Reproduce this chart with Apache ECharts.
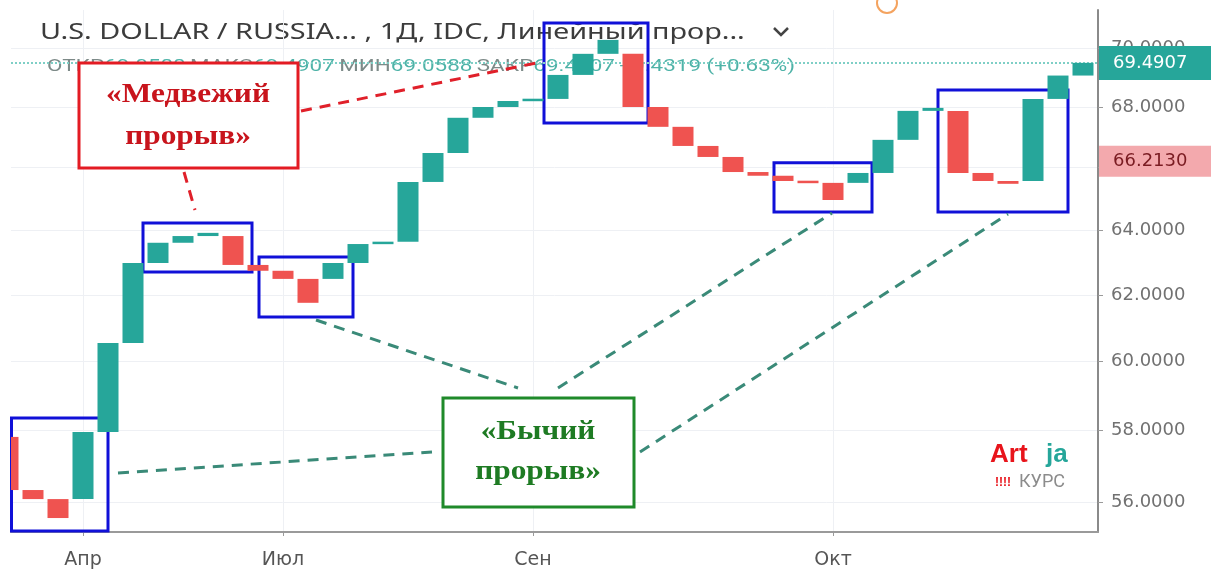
<!DOCTYPE html>
<html><head><meta charset="utf-8">
<script src="https://cdn.jsdelivr.net/npm/echarts@6/dist/echarts.min.js"></script>
<style>html,body{margin:0;padding:0;background:#fff}#c{width:1211px;height:571px}</style>
</head><body><div id="c"></div>
<script>
// ---- data ----
const brickIndex = [0,1,2,3,4,5,6,7,8,9,10,11,12,13,14,15,16,17,18,19,20,21,22,23,24,25,26,27,28,29,30,31,32,33,34,35,36,37,38,39,40,41,42,43];
const brickOpen  = [57.82,56.33,56.08,56.08,57.96,60.55,62.98,63.61,63.82,63.82,62.92,62.74,62.49,62.49,62.98,63.57,63.64,65.54,66.48,67.64,68.00,68.20,68.27,69.08,69.80,69.80,68.00,67.34,66.71,66.35,65.86,65.74,65.57,65.51,65.51,65.83,66.91,67.87,67.87,65.83,65.57,65.57,68.27,69.0588];
const brickClose = [56.33,56.08,55.56,57.96,60.55,62.98,63.61,63.82,63.92,62.92,62.74,62.49,61.76,62.98,63.57,63.64,65.54,66.48,67.64,68.00,68.20,68.27,69.08,69.80,70.28,68.00,67.34,66.71,66.35,65.86,65.74,65.57,65.51,64.96,65.83,66.91,67.87,67.97,65.83,65.57,65.48,68.27,69.0588,69.4907];
const yTickValues = [56,58,60,62,64,66,68,70];
const monthTicks  = [3,11,21,33];
const monthLabels = ['Апр','Июл','Сен','Окт'];
const lastPrice = 69.4907;
const markPrice = 66.2130;
const ohlcLabels = ['ОТКР','МАКС','МИН','ЗАКР'];
const ohlcValues = ['69.0588','69.4907','69.0588','69.4907'];
const changeText = '+0.4319 (+0.63%)';
// highlighted boxes (brick index range, price range)
const boxX0 = [0.14, 5.40, 10.04, 21.44, 30.64, 37.20];
const boxX1 = [4.00, 9.76, 13.80, 25.60, 34.56, 42.40];
const boxYLow  = [55.21, 62.70, 61.33, 67.47, 64.58, 64.58];
const boxYHigh = [58.36, 64.23, 63.17, 70.87, 66.16, 68.57];

const GREEN = '#26a69a', RED = '#ef5350';
const chart = echarts.init(document.getElementById('c'));

const brickData = brickIndex.map((x, k) => [x, brickOpen[k], brickClose[k]]);
const lineData = brickIndex.map((x, k) => [x, brickClose[k]]);

const headerRich = {
  l: {fill: '#7d8a88', fontSize: 17, fontFamily: 'Roboto'},
  v: {fill: '#4fb3a8', fontSize: 17, fontFamily: 'Roboto'}
};
let headerStr = '';
ohlcLabels.forEach((l, k) => { headerStr += '{l|' + l + '}{v|' + ohlcValues[k] + '} '; });
headerStr += '{v|' + changeText + '}';

const dash = (pts, color) => ({type: 'line', z: 100, shape: {x1: pts[0], y1: pts[1], x2: pts[2], y2: pts[3]},
  style: {stroke: color, lineWidth: 3, lineDash: [11, 8]}});

const option = {
  animation: false,
  backgroundColor: '#ffffff',
  grid: {left: 11, right: 113, top: 10, bottom: 39},
  xAxis: {
    type: 'value', min: 0.12, max: 43.6,
    axisLine: {show: true, lineStyle: {color: '#9a9a9a', width: 2}},
    axisTick: {show: true, customValues: monthTicks, length: 4, lineStyle: {color: '#9a9a9a'}},
    axisLabel: {customValues: monthTicks, formatter: v => monthLabels[monthTicks.indexOf(Math.round(v))],
      color: '#555', fontSize: 19, margin: 19, fontFamily: 'DejaVu Sans'},
    splitLine: {show: true, lineStyle: {color: '#eef0f4', width: 1}}
  },
  yAxis: {
    type: 'log', logBase: 10, min: 55.18, max: 71.32, position: 'right',
    axisLine: {show: true, lineStyle: {color: '#8a8a8a', width: 2}},
    axisTick: {show: true, customValues: yTickValues, length: 5, lineStyle: {color: '#9a9a9a'}},
    axisLabel: {customValues: yTickValues, formatter: v => Number(v).toFixed(4), color: '#717171',
      fontSize: 18, margin: 13, fontFamily: 'DejaVu Sans'},
    splitLine: {show: true, lineStyle: {color: '#eef0f4', width: 1}}
  },
  series: [
    {
      type: 'custom', z: 5,
      data: brickData,
      encode: {x: 0, y: [1, 2]},
      renderItem: function (params, api) {
        const i = api.value(0), o = api.value(1), c = api.value(2);
        const a = api.coord([i - 0.42, o]), b = api.coord([i + 0.42, c]);
        let y = Math.min(a[1], b[1]), h = Math.abs(a[1] - b[1]);
        if (h < 2.5) { y -= (2.5 - h) / 2; h = 2.5; }
        const cs = params.coordSys;
        const shape = echarts.graphic.clipRectByRect(
          {x: a[0], y: y, width: b[0] - a[0], height: h},
          {x: cs.x, y: cs.y, width: cs.width, height: cs.height});
        if (!shape) return null;
        return {type: 'rect', shape: shape, style: {fill: c >= o ? GREEN : RED}};
      }
    },
    {
      type: 'line', z: 6, data: lineData, showSymbol: false, silent: true,
      lineStyle: {opacity: 0}, tooltip: {show: false},
      markArea: {
        silent: true,
        itemStyle: {color: 'rgba(0,0,0,0)', borderColor: '#1010d8', borderWidth: 3},
        data: boxX0.map((x0, k) => [{coord: [x0, boxYHigh[k]]}, {coord: [boxX1[k], boxYLow[k]]}])
      },
      markLine: {
        silent: true, symbol: ['none', 'none'],
        data: [
          {yAxis: lastPrice, lineStyle: {color: '#7fcfc6', type: 'dotted', width: 2},
            label: {show: true, position: 'end', distance: 1, formatter: lastPrice.toFixed(4),
              backgroundColor: GREEN, color: '#fff', fontSize: 18, fontFamily: 'DejaVu Sans',
              padding: [8, 24, 8, 14]}},
          {yAxis: markPrice, lineStyle: {color: 'rgba(0,0,0,0)', width: 1},
            label: {show: true, position: 'end', distance: 1, formatter: markPrice.toFixed(4),
              backgroundColor: '#f3a9ad', color: '#7a1c22', fontSize: 18, fontFamily: 'DejaVu Sans',
              padding: [7, 24, 6, 14]}}
        ]
      }
    }
  ],
  graphic: {elements: [
    {type: 'text', z: 0, x: 40, y: 33, scaleX: 1.31, style: {text: 'U.S. DOLLAR / RUSSIA... , 1Д, IDC, Линейный прор...',
      fill: '#3c3c3c', font: '22px "Noto Sans"', verticalAlign: 'middle'}},
    {type: 'polyline', z: 0, shape: {points: [[774, 28], [781, 35], [788, 28]]}, style: {stroke: '#444', lineWidth: 2.5, fill: null}},
    {type: 'text', z: 0, x: 47, y: 67, scaleX: 1.32, style: {text: headerStr, rich: headerRich, verticalAlign: 'middle'}},
    {type: 'circle', z: 0, shape: {cx: 887, cy: 3, r: 10}, style: {stroke: '#f4a35f', lineWidth: 2, fill: null}},
    // callouts
    {type: 'rect', z: 100, shape: {x: 79, y: 63, width: 219, height: 105}, style: {fill: '#fff', stroke: '#e31b23', lineWidth: 3}},
    {type: 'text', z: 101, x: 188, y: 116, scaleX: 1.12, style: {text: '«Медвежий\nпрорыв»', fill: '#c8141c', align: 'center', verticalAlign: 'middle',
      font: 'bold 28px "Liberation Serif"', lineHeight: 42}},
    {type: 'rect', z: 100, shape: {x: 443, y: 398, width: 191, height: 109}, style: {fill: '#fff', stroke: '#1f8a2a', lineWidth: 3}},
    {type: 'text', z: 101, x: 538, y: 452, scaleX: 1.12, style: {text: '«Бычий\nпрорыв»', fill: '#1e7b23', align: 'center', verticalAlign: 'middle',
      font: 'bold 28px "Liberation Serif"', lineHeight: 40}},
    dash([301, 111, 541, 62], '#e0202a'),
    dash([184, 172, 195, 210], '#e0202a'),
    dash([118, 473, 432, 452], '#3a8a78'),
    dash([316, 320, 518, 388], '#3a8a78'),
    dash([558, 388, 832, 213], '#3a8a78'),
    dash([640, 452, 1008, 214], '#3a8a78'),
    // watermark
    {type: 'text', z: 50, left: 990, top: 442, style: {text: 'Art', fill: '#e8141b', font: 'bold 26px "Liberation Sans Narrow", "Liberation Sans"'}},
    {type: 'text', z: 50, left: 1046, top: 442, style: {text: 'ja', fill: GREEN, font: 'bold 26px "Liberation Sans Narrow", "Liberation Sans"'}},
    {type: 'text', z: 50, left: 995, top: 477, style: {text: '!!!!', fill: '#e8141b', font: 'bold 12px "Liberation Sans"'}},
    {type: 'text', z: 50, left: 1019, top: 473, style: {text: 'КУРС', fill: '#8c8c8c', font: '18px "Roboto"'}}
  ]}
};
chart.setOption(option);
</script>
</body></html>
